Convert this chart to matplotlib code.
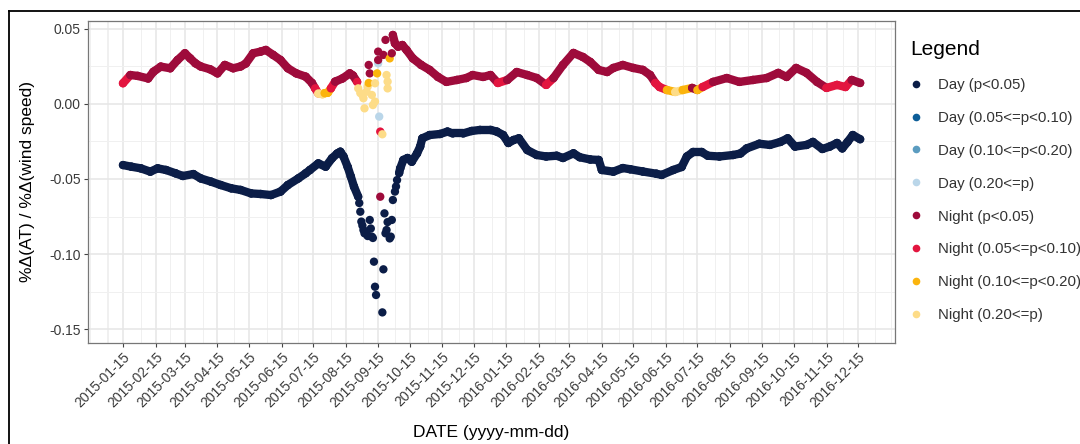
import numpy as np
import matplotlib
matplotlib.use("Agg")
import matplotlib.pyplot as plt
import matplotlib.dates as mdates
from matplotlib.collections import LineCollection
from matplotlib.lines import Line2D

plt.rcParams['font.family'] = ['Liberation Sans', 'DejaVu Sans']

# ---------------- data ----------------
p_classes = ['p<0.05', '0.05<=p<0.10', '0.10<=p<0.20', '0.20<=p']
day_colors = ['#0b1d47', '#0d5e98', '#5b9cc0', '#bad6e9']
night_colors = ['#9e0b3b', '#e3153f', '#fbb40d', '#fddc88']

# Night, continuous part before the Sep-2015 disturbance
night_a_dates = ['2015-01-15', '2015-01-22', '2015-01-29', '2015-02-08', '2015-02-13', '2015-02-20',
                 '2015-03-01', '2015-03-08', '2015-03-15', '2015-03-20', '2015-03-25', '2015-03-30',
                 '2015-04-08', '2015-04-15', '2015-04-22', '2015-04-30', '2015-05-07', '2015-05-12',
                 '2015-05-19', '2015-05-26', '2015-05-31', '2015-06-07', '2015-06-14', '2015-06-21',
                 '2015-06-29', '2015-07-08', '2015-07-14', '2015-07-17', '2015-07-20', '2015-07-24',
                 '2015-07-26', '2015-07-29', '2015-08-01', '2015-08-05', '2015-08-12', '2015-08-19',
                 '2015-08-22', '2015-08-26']
night_a_values = [0.0138, 0.0193, 0.0187, 0.0170, 0.0215, 0.0249,
                  0.0238, 0.0293, 0.0338, 0.0304, 0.0271, 0.0250,
                  0.0231, 0.0204, 0.0260, 0.0238, 0.0250, 0.0270,
                  0.0338, 0.0349, 0.0360, 0.0327, 0.0293, 0.0238,
                  0.0204, 0.0182, 0.0140, 0.0104, 0.0070, 0.0065,
                  0.0072, 0.0075, 0.0104, 0.0149, 0.0170, 0.0204,
                  0.0190, 0.0147]
night_a_class = [1, 0, 0, 0, 0, 0,
                 0, 0, 0, 0, 0, 0,
                 0, 0, 0, 0, 0, 0,
                 0, 0, 0, 0, 0, 0,
                 0, 0, 0, 1, 3, 3,
                 2, 2, 1, 0, 0, 0,
                 0, 1]

# Night, scattered points during the disturbance
night_dip_dates = ['2015-08-27', '2015-08-29', '2015-08-31', '2015-09-01', '2015-09-02', '2015-09-04',
                   '2015-09-05', '2015-09-06', '2015-09-07', '2015-09-06', '2015-09-09', '2015-09-10',
                   '2015-09-12', '2015-09-12', '2015-09-14', '2015-09-15', '2015-09-15', '2015-09-17',
                   '2015-09-17', '2015-09-19', '2015-09-20', '2015-09-22', '2015-09-23', '2015-09-24',
                   '2015-09-24', '2015-09-26', '2015-09-28']
night_dip_values = [0.0104, 0.0073, 0.0060, 0.0038, -0.0029, 0.0082,
                    0.0116, 0.0140, 0.0204, 0.0260, 0.0060, -0.0007,
                    0.0016, 0.0138, 0.0204, 0.0349, 0.0293, -0.0184,
                    -0.0618, -0.0202, 0.0327, 0.0427, 0.0193, 0.0149,
                    0.0104, 0.0304, 0.0338]
night_dip_class = [3, 3, 3, 3, 3, 3,
                   3, 2, 0, 0, 3, 3,
                   3, 3, 2, 0, 0, 1,
                   0, 3, 0, 0, 3, 3,
                   3, 2, 0]

# Night, continuous part after the disturbance
night_b_dates = ['2015-09-29', '2015-10-01', '2015-10-04', '2015-10-08', '2015-10-12', '2015-10-18',
                 '2015-10-26', '2015-11-03', '2015-11-11', '2015-11-19', '2015-11-29', '2015-12-08',
                 '2015-12-14', '2015-12-24', '2015-12-31', '2016-01-07', '2016-01-16', '2016-01-25',
                 '2016-02-04', '2016-02-13', '2016-02-22', '2016-02-29', '2016-03-09', '2016-03-19',
                 '2016-03-28', '2016-04-04', '2016-04-12', '2016-04-20', '2016-04-26', '2016-05-05',
                 '2016-05-15', '2016-05-24', '2016-05-31', '2016-06-05', '2016-06-09', '2016-06-16',
                 '2016-06-24', '2016-07-01', '2016-07-10', '2016-07-15', '2016-07-20', '2016-07-30',
                 '2016-08-12', '2016-08-24', '2016-09-06', '2016-09-19', '2016-09-30', '2016-10-08',
                 '2016-10-17', '2016-10-27', '2016-11-06', '2016-11-15', '2016-11-25', '2016-12-03',
                 '2016-12-09', '2016-12-17']
night_b_values = [0.0460, 0.0404, 0.0382, 0.0393, 0.0360, 0.0304,
                  0.0260, 0.0227, 0.0180, 0.0147, 0.0160, 0.0173,
                  0.0193, 0.0180, 0.0193, 0.0140, 0.0160, 0.0213,
                  0.0193, 0.0173, 0.0127, 0.0173, 0.0260, 0.0340,
                  0.0313, 0.0280, 0.0227, 0.0213, 0.0240, 0.0260,
                  0.0240, 0.0227, 0.0193, 0.0140, 0.0113, 0.0093,
                  0.0080, 0.0093, 0.0107, 0.0093, 0.0113, 0.0147,
                  0.0173, 0.0147, 0.0160, 0.0173, 0.0207, 0.0180,
                  0.0240, 0.0207, 0.0147, 0.0107, 0.0127, 0.0113,
                  0.0160, 0.0140]
night_b_class = [0, 0, 0, 0, 0, 0,
                 0, 0, 0, 0, 0, 0,
                 0, 0, 0, 1, 0, 0,
                 0, 0, 1, 0, 0, 0,
                 0, 0, 0, 0, 0, 0,
                 0, 0, 0, 1, 1, 2,
                 3, 2, 0, 2, 1, 0,
                 0, 0, 0, 0, 0, 0,
                 0, 0, 0, 1, 1, 1,
                 0, 0]

# Day, continuous part before the disturbance
day_a_dates = ['2015-01-15', '2015-01-23', '2015-02-01', '2015-02-10', '2015-02-17', '2015-02-25',
               '2015-03-06', '2015-03-13', '2015-03-23', '2015-03-30', '2015-04-09', '2015-04-18',
               '2015-04-28', '2015-05-07', '2015-05-17', '2015-05-26', '2015-06-05', '2015-06-14',
               '2015-06-21', '2015-07-01', '2015-07-08', '2015-07-12', '2015-07-20', '2015-07-27',
               '2015-08-02', '2015-08-07', '2015-08-10', '2015-08-13', '2015-08-17', '2015-08-20',
               '2015-08-23', '2015-08-27']
day_a_values = [-0.0407, -0.0418, -0.0429, -0.0451, -0.0429, -0.0440,
                -0.0462, -0.0480, -0.0467, -0.0496, -0.0518, -0.0540,
                -0.0562, -0.0573, -0.0596, -0.0600, -0.0607, -0.0584,
                -0.0540, -0.0496, -0.0462, -0.0440, -0.0396, -0.0418,
                -0.0362, -0.0330, -0.0318, -0.0350, -0.0420, -0.0484,
                -0.0551, -0.0618]
day_a_class = [0] * len(day_a_values)

# Day, scattered points during the disturbance
day_dip_dates = ['2015-08-28', '2015-08-29', '2015-08-30', '2015-08-31', '2015-09-01', '2015-09-02',
                 '2015-09-04', '2015-09-05', '2015-09-07', '2015-09-08', '2015-09-09', '2015-09-10',
                 '2015-09-11', '2015-09-12', '2015-09-13', '2015-09-15', '2015-09-16', '2015-09-19',
                 '2015-09-20', '2015-09-21', '2015-09-22', '2015-09-23', '2015-09-24', '2015-09-26',
                 '2015-09-27', '2015-09-28', '2015-09-29', '2015-10-01', '2015-10-02', '2015-10-03']
day_dip_values = [-0.0660, -0.0718, -0.0784, -0.0810, -0.0840, -0.0862,
                  -0.0851, -0.0880, -0.0773, -0.0830, -0.0884, -0.0893,
                  -0.1051, -0.1218, -0.1273, 0.0271, -0.0084, -0.1389,
                  -0.1102, -0.0729, -0.0862, -0.0840, -0.0787, -0.0896,
                  -0.0884, -0.0773, -0.0640, -0.0584, -0.0550, -0.0507]
day_dip_class = [0, 0, 0, 0, 0, 0,
                 0, 0, 0, 0, 0, 0,
                 0, 0, 0, 3, 3, 0,
                 0, 0, 0, 0, 0, 0,
                 0, 0, 0, 0, 0, 0]

# Day, continuous part after the disturbance
day_b_dates = ['2015-10-05', '2015-10-06', '2015-10-09', '2015-10-13', '2015-10-17', '2015-10-22',
               '2015-10-25', '2015-10-27', '2015-11-03', '2015-11-13', '2015-11-20', '2015-11-25',
               '2015-12-05', '2015-12-13', '2015-12-21', '2015-12-31', '2016-01-06', '2016-01-12',
               '2016-01-17', '2016-01-22', '2016-01-27', '2016-02-04', '2016-02-13', '2016-02-22',
               '2016-03-03', '2016-03-09', '2016-03-19', '2016-03-25', '2016-04-04', '2016-04-12',
               '2016-04-15', '2016-04-26', '2016-05-05', '2016-05-12', '2016-05-24', '2016-06-06',
               '2016-06-11', '2016-06-22', '2016-06-30', '2016-07-05', '2016-07-11', '2016-07-19',
               '2016-07-25', '2016-08-05', '2016-08-18', '2016-08-25', '2016-08-31', '2016-09-12',
               '2016-09-22', '2016-10-02', '2016-10-09', '2016-10-16', '2016-10-27', '2016-11-02',
               '2016-11-11', '2016-11-18', '2016-11-25', '2016-11-30', '2016-12-05', '2016-12-10',
               '2016-12-17']
day_b_values = [-0.0460, -0.0429, -0.0373, -0.0360, -0.0385, -0.0330,
                -0.0284, -0.0229, -0.0207, -0.0200, -0.0184, -0.0196,
                -0.0196, -0.0180, -0.0173, -0.0173, -0.0184, -0.0207,
                -0.0260, -0.0240, -0.0229, -0.0307, -0.0340, -0.0350,
                -0.0345, -0.0360, -0.0329, -0.0355, -0.0370, -0.0373,
                -0.0440, -0.0451, -0.0427, -0.0435, -0.0450, -0.0465,
                -0.0473, -0.0440, -0.0420, -0.0350, -0.0320, -0.0320,
                -0.0345, -0.0350, -0.0340, -0.0330, -0.0296, -0.0265,
                -0.0273, -0.0253, -0.0229, -0.0284, -0.0273, -0.0253,
                -0.0300, -0.0284, -0.0260, -0.0296, -0.0253, -0.0207,
                -0.0235]
day_b_class = [0] * len(day_b_values)

tick_labels = ['2015-01-15', '2015-02-15', '2015-03-15', '2015-04-15', '2015-05-15', '2015-06-15',
               '2015-07-15', '2015-08-15', '2015-09-15', '2015-10-15', '2015-11-15', '2015-12-15',
               '2016-01-15', '2016-02-15', '2016-03-15', '2016-04-15', '2016-05-15', '2016-06-15',
               '2016-07-15', '2016-08-15', '2016-09-15', '2016-10-15', '2016-11-15', '2016-12-15']
y_ticks = [0.05, 0.00, -0.05, -0.10, -0.15]
y_minor = [0.025, -0.025, -0.075, -0.125]


def to_num(dates):
    return mdates.date2num(np.array(dates, dtype='datetime64[D]'))


# ---------------- figure ----------------
fig = plt.figure(figsize=(10.8, 4.44), dpi=100)
fig.subplots_adjust(left=87.7 / 1080, right=895 / 1080, top=1 - 21 / 444, bottom=1 - 342.7 / 444)
ax = fig.add_subplot(111)


def draw(dates, vals, cls, palette, line, z):
    x = to_num(dates)
    v = np.asarray(vals, dtype=float)
    cols = [palette[c] for c in cls]
    if line:
        segs = [[(x[i], v[i]), (x[i + 1], v[i + 1])] for i in range(len(x) - 1)]
        lc = LineCollection(segs, colors=cols[:-1], linewidths=6.0, capstyle='round',
                            joinstyle='round', zorder=z)
        ax.add_collection(lc)
    ax.scatter(x, v, c=cols, s=36, linewidths=0, zorder=z + 0.1)


draw(day_a_dates, day_a_values, day_a_class, day_colors, True, 3)
draw(day_b_dates, day_b_values, day_b_class, day_colors, True, 3)
draw(day_dip_dates, day_dip_values, day_dip_class, day_colors, False, 3)
draw(night_a_dates, night_a_values, night_a_class, night_colors, True, 4)
draw(night_b_dates, night_b_values, night_b_class, night_colors, True, 4)
draw(night_dip_dates, night_dip_values, night_dip_class, night_colors, False, 4)

base = to_num(['2015-01-15'])[0]
ax.set_xlim(base - 33.6, base + 735.2)
ax.set_ylim(-0.1591, 0.0553)

# ticks & grid
ax.set_xticks(to_num(tick_labels))
ax.set_xticklabels(tick_labels, rotation=45, ha='right', rotation_mode='anchor',
                   fontsize=10, color='#3a3a3a')
minor_x = ['2014-12-15', '2014-12-31'] + [f'{y}-{m:02d}-01' for y in (2015, 2016) for m in range(1, 13)] \
          + ['2016-12-31', '2017-01-15']
ax.set_xticks(to_num(minor_x), minor=True)
ax.set_yticks(y_ticks)
ax.set_yticklabels([f'{v:.2f}' for v in y_ticks], fontsize=10, color='#3a3a3a')
ax.set_yticks(y_minor, minor=True)
ax.tick_params(axis='both', which='major', length=3, width=0.8, color='#444444', pad=2)
ax.tick_params(axis='both', which='minor', length=0)
ax.grid(True, which='major', color='#e6e6e6', linewidth=1.1, zorder=0)
ax.grid(True, which='minor', color='#f0f0f0', linewidth=0.7, zorder=0)
ax.set_axisbelow(True)
for s in ax.spines.values():
    s.set_color('#777777')
    s.set_linewidth(0.9)

ax.set_xlabel('DATE (yyyy-mm-dd)', fontsize=12.5, va='center')
ax.xaxis.set_label_coords(0.5, -(432 - 342.7) / 321.7)
ax.set_ylabel('%Δ(AT) / %Δ(wind speed)', fontsize=12.5, va='center')
ax.yaxis.set_label_coords((28 - 87.7) / 807.3, 0.5)

# legend
handles, labels = [], []
for grp, pal in (('Day', day_colors), ('Night', night_colors)):
    for cname, col in zip(p_classes, pal):
        handles.append(Line2D([], [], marker='o', linestyle='', markersize=5.5,
                              markerfacecolor=col, markeredgewidth=0))
        labels.append(f'{grp} ({cname})')
leg = ax.legend(handles, labels, loc='upper left', bbox_to_anchor=(907 / 1080, 1 - 37 / 444),
                bbox_transform=fig.transFigure, frameon=False, title='Legend',
                fontsize=10.8, title_fontsize=15, labelspacing=1.26, handlelength=0.8,
                handletextpad=1.05, borderpad=0.2, borderaxespad=0, alignment='left')
for t in leg.get_texts():
    t.set_color('#333333')

# outer frame lines (top and left)
fig.add_artist(Line2D([8.5 / 1080, 8.5 / 1080], [0, 1 - 11 / 444], transform=fig.transFigure,
                      color='black', linewidth=1.3))
fig.add_artist(Line2D([8.5 / 1080, 1], [1 - 11 / 444, 1 - 11 / 444], transform=fig.transFigure,
                      color='black', linewidth=1.3))

fig.savefig('out.png', dpi=100)
